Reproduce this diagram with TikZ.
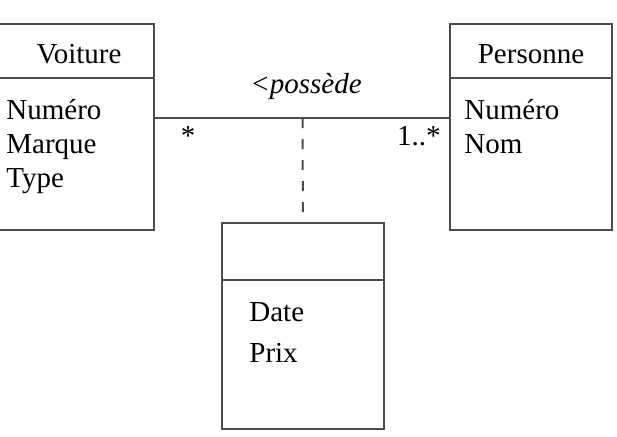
\documentclass[tikz,border=0pt]{standalone}
\usepackage{fontspec}
\setmainfont{Liberation Serif}
\usetikzlibrary{positioning, calc}

\begin{document}
\begin{tikzpicture}[x=0.5pt, y=-0.5pt,
  classe/.style={draw=black!70, line width=1pt, minimum width=81pt,
                 minimum height=103pt, inner sep=0pt, outer sep=0pt, anchor=north west},
  trait/.style={draw=black!70, line width=1pt},
  txt/.style={inner sep=0pt, anchor=base west, font=\fontsize{14.5}{17}\selectfont},
  titre/.style={txt, anchor=base},
  mult/.style={txt, anchor=base}
]
\useasboundingbox (0,0) rectangle (617,436);
\node[classe] (voiture)  at (-8,24)  {};
\node[classe] (personne) at (450,24) {};
\node[classe] (assoc)    at (222,223) {};
% compartiments
\draw[trait] ($(voiture.north west)+(0,54)$) -- ($(voiture.north east)+(0,54)$);
\draw[trait] ($(personne.north west)+(0,54)$) -- ($(personne.north east)+(0,54)$);
\draw[trait] ($(assoc.north west)+(0,57)$) -- ($(assoc.north east)+(0,57)$);
% textes
\node[titre] (tv) at (79,63)  {Voiture};
\node[titre] (tp) at (531,63) {Personne};
\node[txt] (vnum)  at (6,119) {Numéro};
\node[txt] (vmarq) at (6,153) {Marque};
\node[txt] (vtype) at (6,187) {Type};
\node[txt] (pnum)  at (464,119) {Numéro};
\node[txt] (pnom)  at (464,153) {Nom};
\node[txt] (adate) at (249,321) {Date};
\node[txt] (aprix) at (249,362) {Prix};
% association
\coordinate (milieu) at (302.5,118);
\draw[trait] (voiture.east |- milieu) -- (personne.west |- milieu);
\draw[trait, dash pattern=on 5pt off 5.5pt] (milieu) -- (assoc.north);
\node[titre, font=\fontsize{14.5}{17}\selectfont\itshape] (role) at (306,93) {<possède};
\node[mult] (mv) at (188,145) {*};
\node[mult, anchor=base east] (mp) at (441,145) {1..*};
\end{tikzpicture}
\end{document}
